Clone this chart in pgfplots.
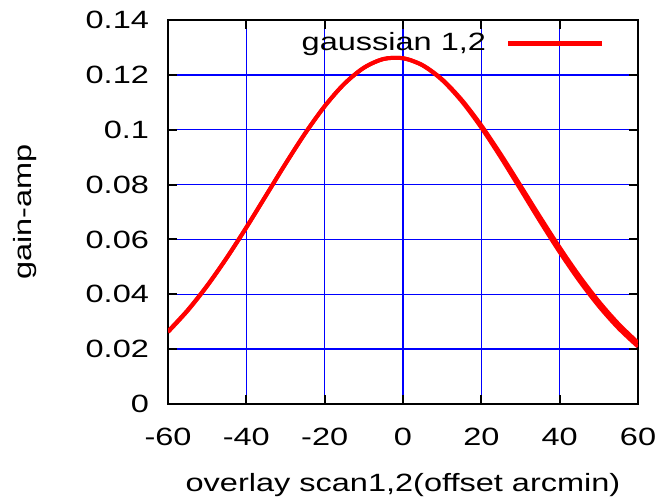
\documentclass[border=0pt]{standalone}
\usepackage{fontspec}
\setmainfont{Liberation Sans}[FakeStretch=1.3]
\usepackage{pgfplots}
\pgfplotsset{compat=1.18}

\begin{document}
\begin{tikzpicture}
\begin{axis}[
  name=ax,
  scale only axis,
  width=235pt, height=192pt,
  xmin=-60, xmax=60,
  ymin=0, ymax=0.14,
  xtick={-60,-40,-20,0,20,40,60},
  xticklabels={-60,-40,-20,0,20,40,60},
  ytick={0,0.02,0.04,0.06,0.08,0.1,0.12,0.14},
  yticklabels={0,0.02,0.04,0.06,0.08,0.1,0.12,0.14},
  scaled y ticks=false,
  tick align=inside,
  major tick length=4.5pt,
  tick style={black, line width=1pt},
  axis line style={black, line width=1pt},
  grid=major,
  major grid style={blue, line width=0.75pt},
  font=\fontsize{12.5}{14}\selectfont,
  xticklabel style={yshift=-8.5pt},
  yticklabel style={xshift=-6pt},
  xlabel={overlay scan1,2(offset arcmin)},
  ylabel={gain-amp},
  xlabel style={at={(axis description cs:0.5,-0.211)}, anchor=center},
  ylabel style={at={(axis description cs:-0.304,0.5)}, anchor=center},
  legend style={draw=none, fill=none, inner sep=0pt,
    at={(axis cs:51.5,0.1315)}, anchor=east,
    font=\fontsize{12.5}{14}\selectfont},
  legend plot pos=right,
  legend cell align=right,
  legend image code/.code={\path (0pt,0pt); \draw[#1, line width=2.3pt] (8pt,0pt) -- (55pt,0pt);},
]

\addplot[red, line width=2pt, smooth] coordinates {
  (-60,0.02623)(-55,0.03399)(-50,0.04303)(-45,0.05323)(-40,0.06432)
  (-35,0.07593)(-30,0.08756)(-25,0.09864)(-20,0.10855)(-15,0.11671)
  (-10,0.12257)(-5,0.12577)(0,0.12606)(5,0.12344)(10,0.11808)
  (15,0.11035)(20,0.10074)(25,0.08984)(30,0.07827)(35,0.06661)
  (40,0.05538)(45,0.04499)(50,0.03569)(55,0.02767)(60,0.02095)
};
\addlegendentry{gaussian 1,2}

\addplot[red, line width=2pt, smooth, forget plot] coordinates {
  (-60,0.02650)(-55,0.03420)(-50,0.04320)(-45,0.05335)(-40,0.06440)
  (-35,0.07598)(-30,0.08760)(-25,0.09866)(-20,0.10856)(-15,0.11672)
  (-10,0.12258)(-5,0.12578)(0,0.12608)(5,0.12354)(10,0.11837)
  (15,0.11088)(20,0.10156)(25,0.09094)(30,0.07963)(35,0.06817)
  (40,0.05706)(45,0.04669)(50,0.03736)(55,0.02923)(60,0.02235)
};

\end{axis}
\pgfresetboundingbox
\path[use as bounding box] ([xshift=-84pt,yshift=-49pt]ax.south west)
  rectangle ([xshift=14pt,yshift=10pt]ax.north east);
\end{tikzpicture}
\end{document}
